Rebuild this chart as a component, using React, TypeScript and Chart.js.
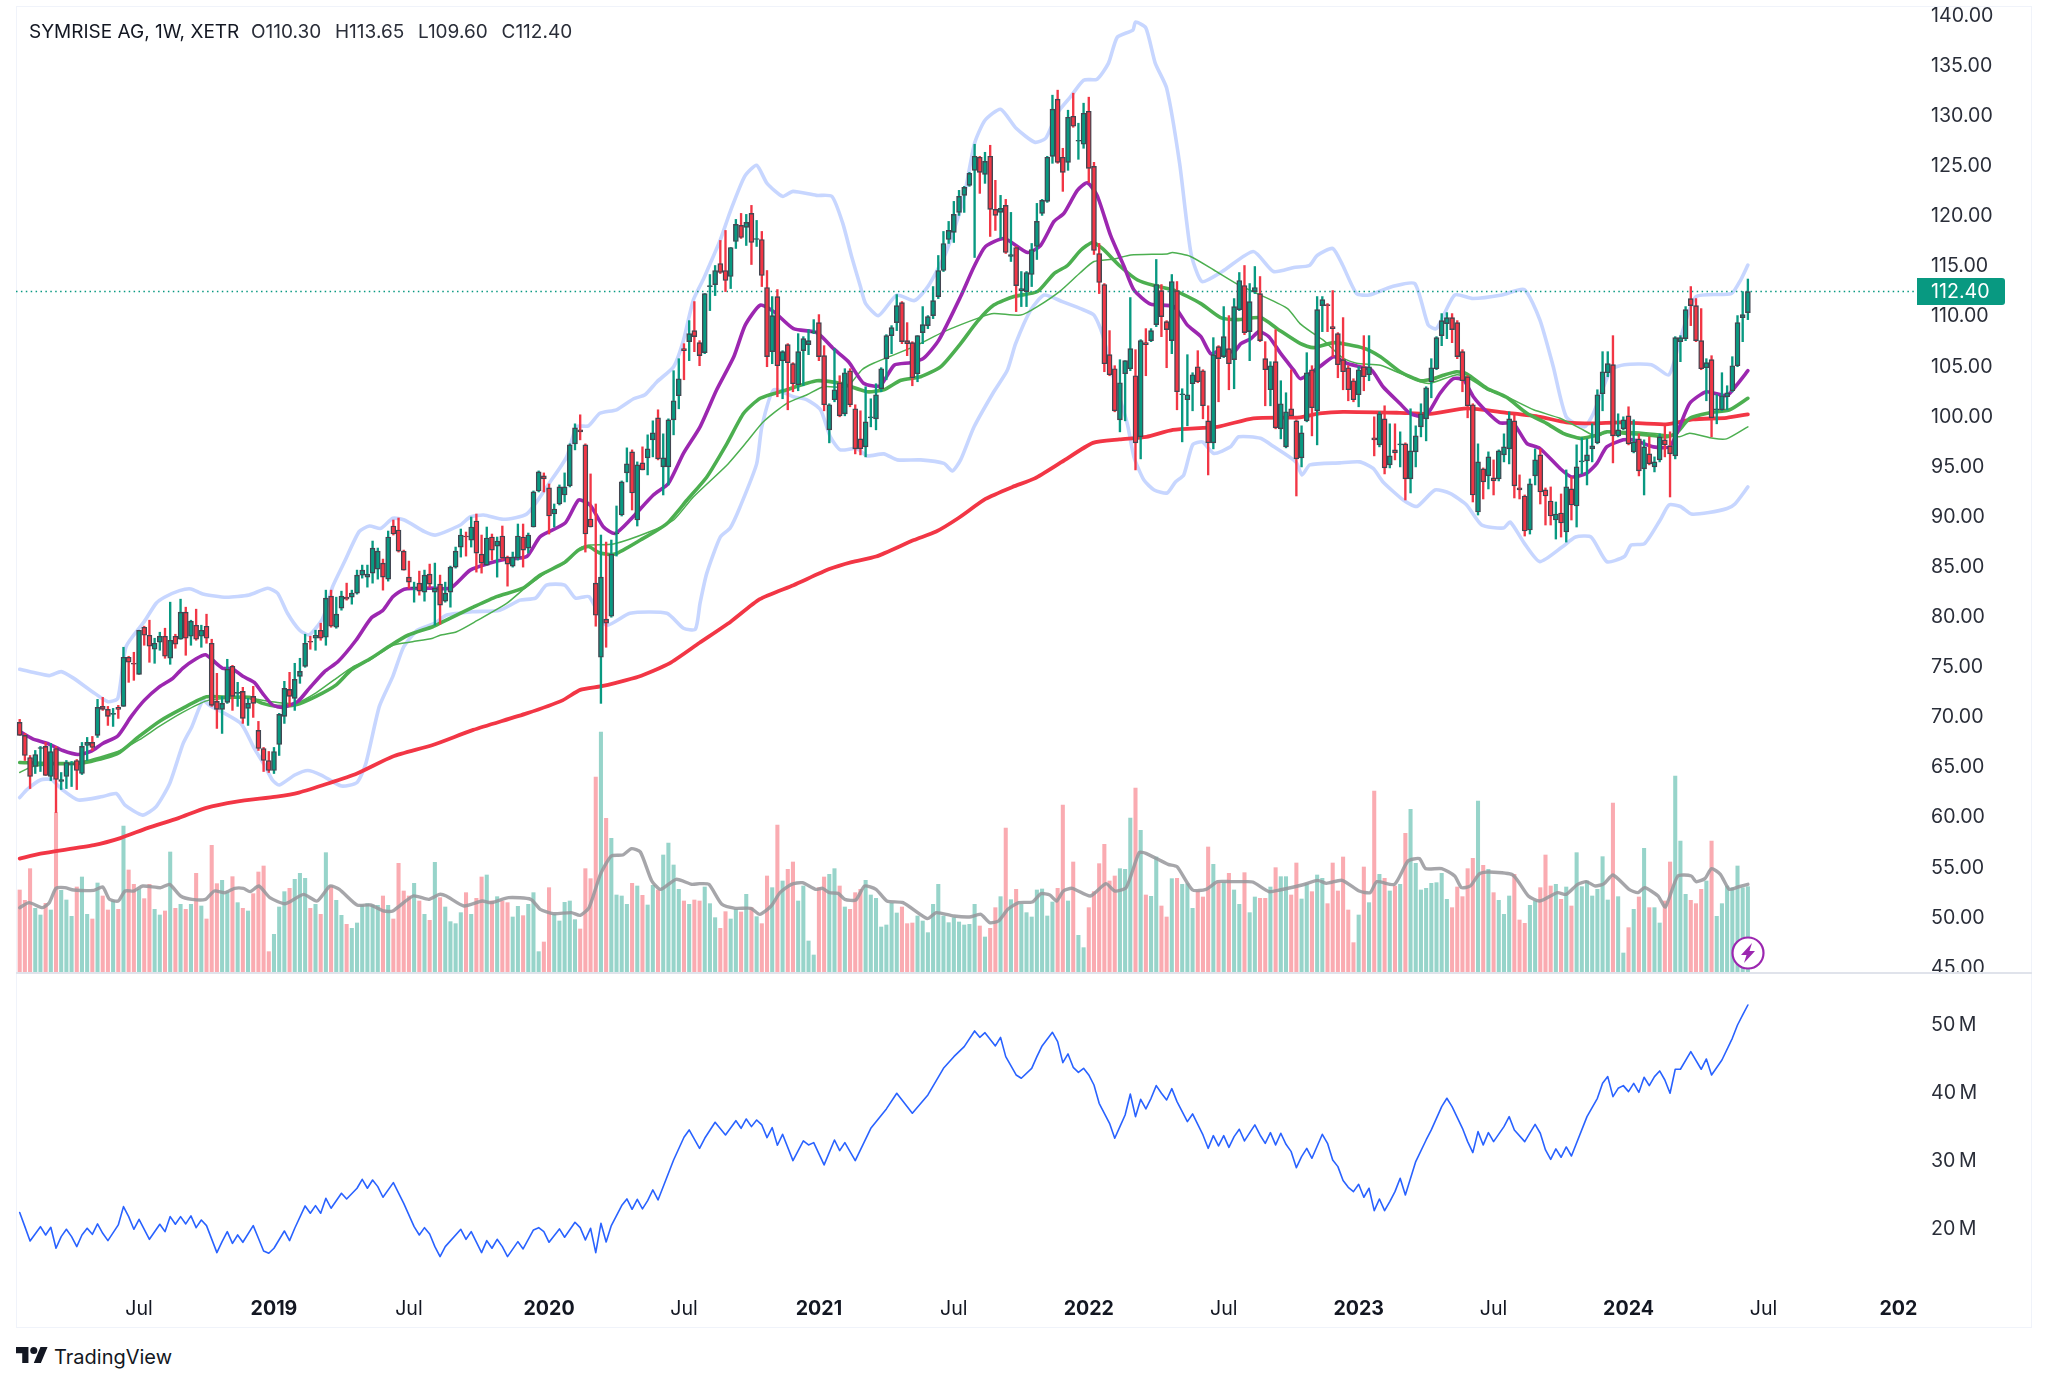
import React, { useEffect, useRef } from "react";
import { Chart, registerables } from "chart.js";
Chart.register(...registerables);

// ---- weekly candles [open, high, low, close] ----
const ohlc2018 = [
[69.4,69.7,68.1,68.1],[68.1,68.3,65.6,66.1],[65.9,66.1,62.8,64.0],[65.0,66.6,64.3,66.2],[66.8,67.0,64.5,66.9],[67.0,67.4,64.1,64.1],[64.0,67.3,63.6,66.5],[66.8,67.0,60.4,63.7],[63.5,64.4,62.7,63.7],[64.0,65.6,62.8,65.4],
[65.2,65.5,63.0,65.3],[65.6,65.7,62.7,64.6],[64.3,67.4,64.2,67.0],[67.1,67.9,65.6,67.4],[67.4,68.0,66.6,66.9],[68.1,71.7,67.9,70.9],[71.0,71.9,70.6,70.7],[70.7,71.0,69.1,70.0],[70.2,70.8,69.0,70.3],[70.9,71.1,69.8,70.7],
[71.0,76.9,71.0,75.9],[75.9,76.0,73.4,75.4],[75.3,76.4,73.6,75.2],[74.2,78.6,74.2,78.6],[78.9,79.0,77.1,78.1],[78.1,79.6,75.4,77.0],[76.7,77.8,75.3,77.3],[77.4,78.4,76.6,78.0],[78.0,78.8,75.8,76.0],[75.8,81.4,75.2,77.6],
[78.0,78.2,76.8,77.2],[77.7,81.7,77.7,80.4],[80.4,80.9,76.1,77.8],[78.0,79.6,77.1,79.5],[79.1,80.7,77.6,77.7],[78.0,79.1,76.9,78.6],[79.0,80.2,77.3,77.8],[77.3,77.7,71.0,71.1],[71.5,74.3,68.8,70.7],[70.7,72.0,68.3,71.3],
[71.4,75.7,71.3,74.7],[75.0,75.1,70.6,72.0],[72.3,73.4,71.0,72.4],[72.5,72.9,69.3,69.8],[70.8,71.8,69.1,71.3],[72.0,73.0,69.9,71.3],[68.6,69.5,66.6,66.8],[66.8,66.9,64.5,65.6],[65.6,66.5,64.4,64.6],
];
const ohlc2019 = [
[64.6,66.9,64.3,66.5],[67.2,70.3,66.1,70.2],[70.0,73.5,69.3,72.8],[72.7,74.4,71.0,72.0],[71.8,75.3,70.6,73.7],[74.0,75.8,73.3,74.5],[75.0,78.2,74.9,77.3],[77.5,78.0,76.7,77.4],[77.8,78.6,76.6,78.1],[78.6,79.3,77.6,77.8],
[77.9,82.6,77.1,81.8],[82.0,82.6,78.9,79.0],[78.9,81.9,78.8,80.2],[80.8,82.5,80.6,82.0],[81.9,83.3,81.6,81.7],[81.9,82.6,81.2,82.3],[82.3,84.6,82.2,84.1],[84.1,85.1,83.8,84.6],[83.9,85.1,82.9,84.2],[84.3,87.5,83.3,86.8],
[84.7,86.8,83.7,86.5],[85.3,85.7,82.6,83.9],[83.7,88.5,83.5,87.9],[89.0,89.6,88.1,88.2],[88.6,89.8,86.4,86.5],[86.5,86.6,84.6,84.6],[83.9,85.5,82.8,83.4],[82.8,83.4,81.4,82.9],[83.3,84.5,82.1,82.5],[82.4,84.6,81.5,84.1],
[84.2,85.2,82.9,83.2],[82.4,85.3,79.1,82.8],[83.2,84.1,79.2,81.1],[81.5,83.4,81.4,82.3],[82.4,85.0,80.9,84.9],[84.9,86.9,84.8,86.5],[86.9,88.7,85.9,88.1],[88.0,88.4,86.0,87.9],[87.6,89.9,86.9,88.9],[89.5,90.2,84.4,86.3],
[86.2,88.1,84.3,85.3],[85.1,88.9,85.1,87.8],[87.9,88.2,85.6,86.6],[87.0,87.9,83.9,87.5],[88.0,89.0,85.6,85.8],[85.9,86.0,83.0,85.2],[85.0,86.4,84.9,85.9],[85.8,89.2,85.6,88.0],[87.9,89.2,84.9,86.6],[86.8,88.3,86.3,88.1],
[88.9,92.5,88.9,92.4],[92.5,94.5,92.4,94.4],[94.0,94.3,92.4,93.7],
];
const ohlc2020 = [
[92.8,93.2,88.2,90.0],[90.2,91.2,88.9,90.7],[91.2,93.1,91.1,92.9],[92.1,94.3,91.4,92.9],[93.0,97.2,92.9,97.1],[97.2,99.2,96.6,98.8],[98.6,100.1,97.6,98.4],[97.1,97.2,86.4,88.2],[89.7,94.2,88.9,88.9],[83.3,91.2,79.0,80.1],
[75.9,88.1,71.3,83.9],[79.7,87.4,76.9,79.3],[80.0,87.6,79.9,86.2],[88.2,91.0,86.0,88.3],[90.1,93.5,90.0,93.4],[94.3,96.8,93.4,95.2],[96.4,96.6,90.6,92.3],[89.6,95.4,89.0,95.1],[95.3,96.9,94.6,94.6],[95.8,98.1,94.1,96.7],
[97.6,99.5,95.9,98.3],[99.8,100.6,95.6,95.7],[94.9,98.2,92.1,95.8],[94.9,99.7,93.1,99.6],[99.6,104.5,98.1,101.5],[102.0,105.7,100.7,103.7],[106.7,107.2,103.6,106.5],[107.4,109.5,105.5,108.2],[108.5,111.4,106.4,107.9],[107.3,107.5,105.0,106.0],
[106.3,112.2,106.2,112.2],[112.9,114.1,110.5,113.0],[113.1,115.0,112.0,114.5],[115.2,117.5,114.2,114.3],[114.5,118.5,112.4,113.5],[113.9,116.8,112.7,116.8],[117.4,119.6,116.7,119.1],[119.0,120.2,117.7,117.8],[118.8,120.1,117.0,119.3],[120.2,121.0,115.1,117.3],
[117.6,119.5,116.9,117.7],[117.6,118.4,112.9,114.0],[112.8,114.5,104.9,105.9],[106.4,111.9,105.2,110.0],[111.9,112.6,101.9,105.0],[105.5,106.5,101.7,106.4],[107.1,107.2,100.6,105.3],[105.2,105.3,102.4,103.2],[103.1,108.2,102.5,106.4],[106.5,107.9,103.0,107.7],
[107.1,108.6,106.1,107.5],[108.3,109.6,108.2,108.4],
];
const ohlc2021 = [
[109.3,110.1,105.5,105.9],[106.0,107.0,100.5,101.1],[98.6,101.2,97.3,101.1],[101.6,106.7,101.4,102.6],[103.3,104.0,99.9,100.0],[100.2,104.7,100.0,104.3],[104.5,104.7,100.9,101.1],[100.7,101.1,96.2,96.7],[97.7,100.5,96.1,96.7],[96.9,102.9,95.9,99.4],
[99.8,101.7,98.9,99.9],[99.7,103.2,98.6,102.1],[102.7,104.8,102.4,104.7],[105.7,108.1,103.6,108.0],[108.0,109.0,106.2,108.8],[109.3,112.1,108.5,111.0],[111.3,111.4,107.2,107.4],[107.5,109.3,106.0,107.2],[107.3,107.4,103.0,103.8],[104.2,108.0,103.4,108.0],
[108.3,110.9,107.2,109.1],[109.0,110.0,108.7,109.9],[110.0,112.9,109.7,111.5],[111.9,116.0,111.7,114.5],[114.5,118.4,114.4,117.2],[117.6,119.4,117.2,118.5],[118.3,121.4,117.3,120.1],[120.3,122.5,120.0,121.9],[122.0,122.9,120.3,122.8],[123.0,124.3,122.9,124.2],
[124.5,127.1,115.8,125.9],[125.8,125.9,122.2,124.3],[124.1,126.3,123.2,125.4],[125.9,127.0,117.9,120.6],[120.6,123.5,118.5,120.0],[120.3,122.0,117.7,120.7],[121.0,121.6,116.2,116.3],[115.9,120.3,115.4,116.1],[116.8,116.9,110.4,113.0],[112.5,114.4,110.9,112.7],
[112.4,114.4,110.9,114.3],[114.1,117.2,112.9,116.6],[116.9,121.2,115.6,119.4],[120.2,121.6,120.0,121.5],[121.4,125.9,121.3,125.8],[125.9,132.0,125.2,130.6],[131.6,132.5,125.2,125.3],[125.8,126.7,122.4,124.3],[125.3,130.5,124.5,129.8],[129.9,132.2,128.8,128.9],
[127.4,129.2,125.6,127.5],[127.1,131.2,126.7,130.2],
];
const ohlc2022 = [
[130.4,131.8,123.3,124.7],[124.9,125.3,116.1,116.5],[116.2,117.2,112.2,113.3],[113.1,113.2,104.4,105.2],[106.1,108.5,104.0,104.1],[104.7,105.0,100.4,100.5],[99.6,105.6,98.4,103.3],[104.2,105.5,99.5,105.5],[104.7,111.8,104.5,106.7],[104.0,106.6,94.6,97.3],
[97.9,107.6,95.7,107.5],[107.3,108.7,104.0,107.1],[107.5,108.7,107.4,108.5],[109.1,115.6,108.9,113.1],[112.5,113.1,107.9,109.9],[109.4,109.5,104.8,108.6],[107.5,114.1,106.2,113.4],[112.5,113.4,100.6,102.4],[102.1,102.7,97.4,102.2],[101.6,106.1,99.0,102.1],
[103.2,104.3,100.5,104.1],[104.9,106.5,103.3,103.4],[104.5,104.6,99.7,101.0],[99.5,101.0,94.1,97.3],[97.3,107.8,96.7,106.1],[106.9,107.0,101.4,105.7],[105.9,110.9,105.8,107.9],[106.7,110.0,102.6,105.2],[105.6,111.7,102.7,110.9],[110.6,114.3,110.5,113.5],
[113.0,115.0,108.1,108.3],[108.4,113.2,105.5,111.4],[112.4,114.9,112.2,112.8],[112.2,113.9,107.4,107.5],[105.7,107.4,101.0,104.6],[102.6,105.4,101.0,105.0],[105.4,108.6,98.7,98.8],[98.7,103.5,97.7,101.2],[96.9,102.3,96.8,100.4],[100.7,104.6,99.9,100.0],
[99.5,99.6,92.0,95.7],[95.8,99.0,94.9,98.3],[99.5,106.3,99.4,104.3],[104.6,105.0,98.0,100.8],[100.5,111.9,97.1,110.6],[111.0,111.9,108.4,111.6],[111.1,111.2,108.4,111.0],[108.9,112.5,105.9,108.7],[108.2,108.3,103.8,105.1],[105.6,109.8,102.6,104.4],
[104.8,105.0,101.5,102.6],[103.5,103.7,101.4,101.6],
];
const ohlc2023 = [
[102.1,104.9,100.9,104.6],[104.9,108.0,102.5,103.9],[104.1,108.0,103.5,104.9],[97.8,99.9,96.0,97.6],[97.1,100.4,96.9,100.2],[99.7,101.0,94.2,94.8],[95.1,99.2,94.8,96.0],[96.6,99.2,95.6,96.3],[97.1,98.4,94.9,97.2],[97.2,97.3,91.6,93.7],
[93.7,100.7,92.3,96.5],[96.4,99.0,94.9,98.0],[98.9,101.2,97.9,100.2],[99.7,102.9,97.5,102.8],[103.4,105.7,101.8,104.8],[104.7,107.9,104.6,107.8],[108.0,110.2,107.0,109.5],[109.2,110.3,107.7,109.8],[109.8,110.2,107.3,108.6],[109.3,109.5,105.7,105.9],
[106.4,106.6,102.4,103.5],[103.9,104.0,99.8,101.0],[101.1,101.2,91.4,92.1],[90.4,97.2,90.1,95.4],[94.7,94.8,91.7,93.4],[94.0,96.4,92.7,95.9],[93.8,95.6,92.1,93.5],[93.7,96.6,93.5,96.5],[96.1,98.2,95.4,96.9],[96.7,100.4,95.2,99.7],
[99.5,100.1,91.8,93.0],[92.8,94.1,91.7,92.6],[92.0,92.1,88.0,88.5],[88.6,93.7,88.2,93.2],[94.0,96.7,93.1,95.6],[96.1,96.7,91.2,92.4],[92.6,92.8,89.1,92.0],[91.5,92.9,89.1,90.0],[89.6,91.4,87.7,90.2],[90.3,92.2,87.9,89.3],
[88.4,94.6,87.4,92.9],[92.7,93.9,89.6,91.1],[91.0,97.1,88.9,94.9],[95.4,97.8,94.2,95.5],[95.5,97.7,93.1,96.1],[96.7,99.2,95.4,97.0],[97.3,102.6,97.2,102.1],[102.2,106.4,100.5,104.4],[104.3,106.4,103.9,105.2],[105.1,108.0,95.3,98.0],
[98.0,100.2,97.9,98.6],[98.7,99.9,98.6,99.6],
];
const ohlc2024 = [
[100.0,100.9,97.1,97.2],[96.4,99.6,96.3,97.4],[97.7,98.2,94.0,94.5],[94.7,97.6,92.1,96.9],[96.2,97.9,95.1,95.2],[94.9,95.9,94.4,95.4],[95.6,98.2,95.4,97.9],[97.6,99.0,95.9,97.1],[97.0,98.4,91.9,96.2],[96.0,107.9,95.7,107.8],
[107.4,108.0,105.4,107.8],[107.7,110.9,107.5,110.6],[111.7,112.9,109.0,111.0],[111.0,111.7,107.4,107.5],[107.5,110.7,104.6,104.7],[104.8,105.7,101.5,105.3],[105.6,106.0,97.9,99.8],[100.6,102.1,99.2,100.7],[100.6,104.3,100.5,102.0],[101.9,103.0,100.6,102.3],
[102.5,105.9,102.4,105.0],[105.0,110.0,104.9,109.3],[109.8,112.4,107.4,110.1],[110.3,113.65,109.6,112.4],
];

// ---- volume bars (relative units) ----
const vol2018 = [249,218,313,194,174,209,189,481,248,219,170,258,288,176,162,270,231,189,216,191,441,309,266,251,223,266,191,174,186,363,194,206,191,206,299,201,162,383,268,278,244,289,211,194,186,238,303,321,64];
const vol2019 = [116,198,244,254,281,299,284,194,206,176,361,261,218,173,146,134,150,204,208,204,203,231,203,162,329,246,231,269,216,176,158,332,226,198,154,148,181,241,176,224,288,294,216,229,216,211,168,200,172,206,241,64,93];
const vol2020 = [256,176,156,212,216,160,132,313,283,588,723,464,404,234,231,206,269,261,233,204,263,249,354,390,324,251,216,206,219,216,258,208,166,134,184,162,191,183,236,196,169,148,291,256,444,276,311,333,216,261,96,54];
const vol2021 = [256,288,296,313,261,198,191,241,251,278,234,224,138,144,209,180,198,148,150,171,156,121,206,266,171,151,166,153,144,146,206,141,108,134,196,229,435,220,251,206,181,168,249,252,171,213,254,504,216,333,113,76];
const vol2022 = [196,244,328,386,276,291,313,311,465,555,428,234,230,348,201,168,283,284,266,268,194,246,228,378,326,271,271,299,249,206,301,181,228,224,224,258,316,289,289,234,330,222,268,244,294,284,208,330,246,348,189,91];
const vol2023 = [174,318,211,546,296,284,246,261,266,419,491,329,249,254,269,271,299,221,196,258,229,313,344,516,323,311,241,218,176,231,296,159,149,203,216,256,354,261,266,221,258,201,361,259,276,231,251,349,219,510,229,60];
const vol2024 = [136,191,228,374,196,196,150,216,333,591,396,236,218,208,251,276,396,170,208,261,256,321,256,259];

// ---- indicator lines: [week index, value] ----
const bbUpper = [[0,74.7],[2.5,74.4],[5.7,74.07],[8,74.47],[10.2,73.87],[14,72.47],[17,71.47],[18.9,71.8],[20.5,76.96],[24,79.46],[26.3,81.29],[27.9,81.89],[30.8,82.55],[33,82.72],[35.3,82.22],[39.8,81.89],[44.2,82.12],[47.8,82.79],[49.7,82.29],[51.6,80.29],[53.9,78.63],[55.8,78.13],[58.4,79.79],[60.3,82.95],[62.6,85.45],[65.4,88.44],[67.4,89],[69.6,88.77],[71.9,89.77],[74.1,89.6],[78,88.44],[80.2,88.1],[84.9,89.1],[86.8,89.9],[89.4,90.1],[93.2,89.67],[97.7,90.2],[102.2,93.4],[105.4,95.9],[107.3,98.9],[109.6,99],[111.8,100.25],[115,100.6],[118.3,101.7],[120.5,102.1],[122.8,103.4],[126,104.9],[127.9,107.55],[129.8,111.55],[131.8,113.7],[132.8,114.9],[135,117.55],[137,120.5],[139.7,123.9],[142,125],[144,123.2],[147,121.9],[149,122.4],[153.5,122],[156.5,121.9],[158.6,119.2],[160.3,115.9],[162,112.9],[163,111.2],[165.5,110],[169,112.05],[172.4,111.5],[175,112.9],[178.4,116.2],[181.8,121.5],[184,127.2],[186,129.5],[189,130.6],[192,128.7],[195.6,127.3],[197.7,127.7],[199.9,130.2],[202.5,131.85],[205,133.5],[207.6,133.6],[209.8,135.2],[211.5,137.8],[214.5,138.5],[215,139.3],[217,138.7],[218.8,135.2],[221,132.7],[223.5,125.2],[225.7,116.2],[227.8,113.4],[231.7,114.4],[237.7,116.4],[241.6,114.4],[245.5,114.8],[248.5,115],[250,116],[253,116.7],[254.9,115.05],[257.6,112.2],[260,112.05],[264.5,112.9],[268.8,113.2],[271.4,109.06],[273,108.7],[276.5,112.05],[280,111.7],[285.6,112.05],[289.9,112.6],[292.9,109.6],[295.5,104.9],[298,99.9],[301.5,98.9],[303.2,100.2],[306.6,104.6],[309.2,105.1],[314.4,105.1],[317.8,104.1],[320,107.7],[323,111.9],[329.8,112.2],[331.6,113.55],[333,115.05]];
const bbLower = [[0,61.9],[1.4,62.7],[4,63.65],[6.1,63.7],[8.3,62.65],[11.3,61.65],[16,62],[18.6,62.3],[20.3,61.15],[23.7,60.15],[26.3,61],[28.9,63.3],[31.5,67.3],[33.2,69],[35.3,71.6],[36.6,71.1],[42.6,69.3],[45.2,66.8],[47,65.3],[48.7,63.65],[50,63.15],[53,64.15],[55.5,64.6],[58.1,64.15],[62,63.05],[65,63.4],[66.7,65.3],[69.3,71],[71.9,74],[74,76.95],[76.6,78.6],[80,79.3],[82.2,80.1],[87.4,80.45],[92.5,80.6],[96.4,81.6],[99.4,81.8],[101.5,83.1],[105,83.1],[107.1,81.8],[109.7,81.95],[113,79.1],[117.6,80.3],[124.7,80.3],[127.9,78.8],[130.2,78.7],[131.1,81.3],[132.4,84.3],[135,87.9],[136.9,88.8],[138.8,90.9],[142,95.2],[143,98.9],[145.3,102.6],[149.1,101.9],[151.7,101.6],[154.3,100.6],[156.2,97.9],[158.1,96.6],[161.3,96.75],[163.3,96],[166.5,96.2],[169.1,95.6],[173.6,95.6],[178.1,95.25],[179.7,94.5],[181.3,95.6],[183.9,98.9],[187.7,102.4],[190.3,104.55],[191.9,107.2],[194.8,110.55],[197.4,112.05],[200.9,111.4],[204.4,110.7],[207,110.05],[208.6,108.2],[210.9,103.55],[213.4,99.25],[214.7,95.9],[216.6,93.6],[218.6,92.6],[221.1,92.3],[222.7,93.4],[224.3,94.1],[226,97.1],[227.9,97.4],[230.1,96.25],[233.3,96.9],[234.9,97.9],[239.1,97.75],[241.7,96.9],[245.9,95.4],[247.1,94.1],[248.6,95.1],[254.4,95.3],[258.2,95.4],[260.8,94.75],[262.7,93.4],[266.6,91.6],[269.2,90.95],[272.7,92.6],[275.6,92.25],[278.8,91.1],[281.7,89.1],[285.9,88.8],[287.2,89.4],[289.9,87.3],[292.9,85.45],[297.2,86.9],[299.8,87.9],[302.8,87.9],[305.8,85.45],[309.2,85.95],[310.5,87.1],[313.1,87.25],[316.1,89.6],[317.8,91.1],[320,90.95],[322.1,90.2],[325.5,90.35],[329,90.75],[330.5,91.2],[333,92.9]];
const ema20 = [[0,68.5],[2.5,67.75],[5.4,67.3],[8.3,66.6],[11.2,66.2],[13.7,66.5],[16,67.3],[18.9,68.05],[21.5,70],[24,71.6],[26.9,72.95],[29.5,73.8],[31.4,74.8],[34,75.75],[35.8,76.15],[37.2,75.6],[39.1,74.8],[41,74.75],[43,74],[45.2,73.4],[46.8,72.3],[48.7,71.15],[50.7,70.9],[53.6,71.5],[55.8,72.8],[58.7,74.45],[61.3,75.45],[64.8,77.6],[67.7,79.8],[70,80.6],[71.9,81.95],[74.1,82.7],[79,82.8],[83,82.8],[86.8,84.6],[90.6,85.3],[93.9,85.7],[97.7,85.95],[100.3,87.95],[105.1,89.3],[107.7,91.6],[109.9,91.1],[112.5,88.9],[114.7,88.25],[117.6,89.6],[122.1,92.1],[125,93.25],[127.9,96.25],[131.1,98.9],[134.3,102.6],[137.6,105.9],[139.8,109.05],[142.7,111.05],[145.3,110.4],[149.1,108.7],[153.6,108.3],[156.8,106.7],[159.7,105.4],[162.6,103.25],[165.8,103],[168.5,105.05],[171.7,105.3],[174.2,105.75],[177.1,107.55],[181.3,111.9],[183.9,114.9],[186.1,116.9],[189.7,117.7],[194.2,116.3],[196.7,117],[199.3,119.4],[201.2,120.2],[203.8,122.5],[205.7,123.25],[207.6,122],[210.2,118],[212.8,114.9],[214.7,112.55],[217.9,111.15],[222.4,110.9],[225,109.05],[227.6,107.9],[229.5,106.2],[231.4,106.55],[234,106.4],[235.3,107.2],[237.2,107.7],[238.8,108.4],[240.7,107.9],[243,106.2],[245.5,104.55],[246.8,103.7],[250.5,104.9],[253.2,105.9],[255.7,105.25],[258.2,104.9],[260.5,104.55],[262.7,102.9],[265.9,101.25],[267.9,100.25],[270.8,99.9],[273.7,102.25],[276.2,103.7],[278.2,103.6],[280.1,101.9],[282.7,100.4],[285.2,99.3],[287.8,99.25],[290.4,97.25],[292.9,96.75],[296.8,94.75],[299,93.9],[301.9,94.25],[303.9,95.25],[305.8,96.9],[309,97.6],[310.9,97.6],[314.8,96.9],[317.9,96.9],[319.6,98.6],[321.8,101.25],[325,102.4],[328.9,102],[330.8,103.05],[333,104.5]];
const ema50 = [[0,65.4],[5.7,65.3],[11,65.3],[13.7,65.5],[18.9,66.3],[23,68],[26.9,69.5],[31.4,70.8],[36,71.95],[40.4,71.9],[44.2,71.9],[46.8,71.3],[49.7,71],[53.2,71.15],[57.1,72],[61,73.15],[63.9,74.65],[67.7,75.8],[71.2,77],[74.8,78.1],[79.6,78.95],[81,79.3],[84.2,80.1],[87.4,80.9],[91.9,81.95],[97,82.8],[100.3,84.1],[104.8,85.3],[107.7,86.6],[109.6,86.95],[111.8,86.3],[114.7,86.2],[119.6,87.6],[124.7,89.25],[128.6,91.6],[132.4,93.9],[136.3,97.25],[139.5,100.25],[142.7,101.75],[147.2,102.5],[153.6,103.5],[158.1,103.25],[163.3,102.4],[166.5,102.6],[169.8,103.55],[173.6,103.9],[177.5,104.9],[181.3,107.2],[184.5,109.4],[187.7,111.05],[191.6,111.9],[196.1,112.4],[199.3,114.2],[201.9,115],[204.4,116.5],[206.7,117.3],[208.6,116.7],[212.1,114.9],[215.4,113.55],[218.6,113],[222.4,112.55],[227.6,111.2],[231.4,109.8],[234.6,109.6],[239.1,109.8],[242.3,108.7],[246.8,107.2],[249.3,106.8],[253.2,107.3],[259,106.75],[262.2,105.9],[266,104.4],[269.9,103.5],[272.4,103.7],[274.3,104.05],[276.9,104.4],[278.8,104.2],[282.7,102.75],[286.5,101.85],[290.4,100.25],[294.2,99.25],[297.4,98.25],[300.7,97.75],[303.9,98.05],[305.8,98.4],[309.6,98.25],[313.5,98.1],[317.2,97.9],[319.2,98.25],[321.8,99.75],[325.7,100.3],[329.5,100.6],[333,101.75]];
const sma50 = [[0,64.4],[2.5,65],[12.1,65.5],[18.9,66.5],[23,67.65],[26.9,69],[31.4,70.4],[36,71.55],[40.4,71.8],[44.2,71.8],[49.4,71.4],[53.2,71.3],[57.1,72.35],[61,73.8],[64.2,74.95],[67.4,75.6],[71.9,77.1],[75.7,77.45],[79.6,77.8],[81,78.1],[84.2,78.45],[88.1,79.55],[93.9,81.3],[97.7,82.95],[102.2,84.6],[105.4,85.4],[108,86.8],[109.9,87.1],[114.4,87.2],[121.5,88.45],[126,89.6],[129.8,91.9],[136.3,95.1],[140.1,97.4],[143.3,99.4],[147.8,101.25],[151.7,102.1],[154.9,102.9],[159.4,102.9],[162.3,104.6],[164.5,105.25],[172.3,106.9],[178.1,108.4],[185.2,109.85],[187.7,110.2],[192.9,110.05],[196.1,110.9],[200.6,112.5],[204.4,114.3],[207,115.4],[210.9,115.65],[214.1,116.05],[221.1,116.15],[222.1,116.3],[225.6,115.9],[230.1,114.55],[234.6,113.15],[239.1,112.05],[244.3,110.7],[246.7,109.2],[249.3,108.2],[251.2,107.55],[255,105.75],[257.6,105.25],[262.2,105.05],[265.3,104.4],[269.9,103.4],[271.8,103.25],[276.9,104.1],[278.8,103.9],[282.7,102.6],[286.5,101.9],[291.7,100.6],[296.8,99.75],[300.7,98.75],[303.9,97.9],[305.8,98.4],[310.9,98.4],[317.2,98.1],[319.8,97.9],[321.8,98.25],[326.3,97.75],[328.9,97.7],[333,98.9]];
const sma200 = [[0,55.8],[4,56.3],[14.3,57.15],[19.4,57.85],[24.6,58.85],[30.6,59.85],[35.8,60.85],[41.8,61.5],[49.5,62],[53.8,62.4],[59.4,63.3],[65,64.3],[71.9,66],[79.6,67.15],[87.4,68.65],[97.7,70.3],[104.6,71.6],[108,72.65],[111.9,73],[114.9,73.35],[119.2,73.95],[125.2,75.3],[131,77.35],[137,79.45],[142.6,81.7],[149.1,83.1],[156,84.7],[160.3,85.4],[165,85.95],[172.3,87.6],[176.6,88.45],[180.9,89.8],[186.1,91.7],[191.3,92.9],[195.6,93.75],[200.8,95.4],[206.8,97.3],[211.9,97.65],[217.1,97.9],[222.2,98.6],[230.8,98.9],[237.7,99.75],[246.7,99.85],[250.5,100.25],[255,100.4],[265.9,100.3],[271.8,100.2],[278.8,100.75],[286.5,100.3],[292.9,99.9],[298,99.35],[303.2,99.25],[308.4,99.35],[317.2,99.15],[322.4,99.65],[328.9,99.8],[333,100.15]];
const volMa = [[0,196],[1.8,211],[4.4,196],[5.7,211],[7,254],[8.7,256],[10.4,249],[14.3,248],[16,258],[17.3,221],[19,216],[20.3,246],[22,246],[23.7,261],[27.2,256],[28.9,266],[31,231],[33.2,221],[35.8,221],[37.5,246],[39.6,241],[41.4,254],[43.1,254],[44.4,244],[46.1,261],[48.2,226],[51.2,208],[54.7,236],[57.3,216],[59.8,261],[61.6,251],[65,204],[67.6,204],[70.2,186],[71.9,186],[75.8,231],[78.8,221],[80.9,236],[82.2,231],[85.6,201],[89.1,216],[90.8,211],[94.2,226],[98.5,221],[100.3,191],[102.8,178],[106.3,181],[108,173],[109.7,196],[111.9,296],[114,351],[116.2,354],[117.9,373],[119.6,363],[121.8,276],[123.5,251],[126.5,281],[129.5,266],[131,268],[132.8,266],[135.3,206],[137.9,194],[140.9,194],[142.6,176],[144.8,201],[146.5,241],[148.7,266],[150.8,271],[153.4,251],[154.7,254],[156,241],[157.7,239],[159,221],[161.1,219],[162.8,261],[165,251],[167.1,216],[170.2,211],[174.9,163],[176.6,181],[180,171],[183,168],[185.2,176],[186.9,151],[188.6,156],[190.4,191],[192.5,211],[195.1,213],[196.8,238],[198.5,234],[199.8,216],[201.1,246],[202.8,254],[206.3,231],[209.3,268],[211,246],[213.2,256],[215.7,361],[217,359],[221.3,326],[223,319],[226,249],[228.6,251],[230.8,274],[233.4,274],[235.9,274],[237.6,273],[240.7,244],[242.8,249],[247.1,264],[250.1,278],[251.8,269],[254.8,278],[258.1,246],[260.2,241],[261.5,274],[264.9,266],[267.5,336],[269.7,343],[270.9,313],[274,313],[276.5,291],[277.8,256],[279.5,261],[281.3,298],[283,303],[287.7,294],[290.7,231],[292.9,216],[296.3,241],[298,236],[300.2,266],[301.9,274],[303.6,261],[305.3,268],[307,294],[310.1,251],[311.8,241],[313.1,256],[315.7,231],[317.1,198],[319.5,291],[322.1,291],[323,274],[324.7,283],[326,313],[327.7,296],[329.4,251],[331.1,258],[333,266]];
const obv = [[0,22.08],[1,20.01],[2,17.9],[4,20],[5,18.78],[6,19.91],[7,16.82],[8,18.54],[9,19.62],[10,18.54],[11,17.06],[12,18.78],[13,19.77],[14,18.88],[15,20.41],[16,19.03],[17,17.95],[19,20.26],[20,22.96],[21,21.49],[22,19.62],[23,21.09],[25,18.14],[27,20.36],[28,19.27],[29,21.49],[30,20.36],[31,21.49],[32,20.41],[33,21.59],[34,19.86],[35,20.99],[36,20.16],[38,16.18],[39,17.8],[40,19.27],[41,17.55],[42,18.78],[43,17.7],[45,20.16],[46,18.29],[47,16.42],[48,16.08],[49,16.82],[51,19.37],[52,17.95],[53,19.77],[55,23.06],[56,21.98],[57,23.11],[58,21.98],[59,24.19],[60,22.72],[62,24.93],[63,24.09],[65,25.67],[66,26.99],[67,25.67],[68,26.89],[69,25.91],[70,24.34],[72,26.5],[74,23.45],[76,20],[77,18.78],[78,19.86],[79,18.93],[80,17.06],[81,15.59],[82,17.06],[85,19.62],[86,18.14],[87,19.27],[89,16.18],[90,17.95],[91,16.82],[92,18.14],[93,17.06],[94,15.59],[96,17.8],[97,16.72],[99,19.52],[100,19.86],[101,19.27],[102,17.7],[104,19.67],[105,18.44],[107,20.65],[108,19.86],[109,18.05],[110,19.77],[111,16.18],[112,20.5],[113,17.75],[114,20.16],[116,23.11],[117,24.09],[118,22.57],[119,24.04],[120,22.62],[121,23.85],[122,25.42],[123,23.94],[126,29.84],[128,33.19],[129,34.27],[131,31.56],[132,33.04],[134,35.4],[136,33.53],[138,35.64],[139,34.51],[140,35.89],[141,34.76],[142,35.74],[143,35.01],[144,33.14],[145,34.61],[146,32.01],[147,33.63],[149,29.75],[151,32.65],[152,32.06],[153,32.4],[155,29.11],[157,32.79],[158,31.22],[159,32.4],[161,29.75],[164,34.51],[167,37.37],[169,39.68],[172,36.73],[175,39.43],[178,43.36],[180,45.08],[182,46.56],[184,48.87],[185,47.93],[186,48.62],[188,46.66],[189,47.93],[190,45.08],[192,42.38],[193,41.89],[195,43.36],[196,45.08],[197,46.66],[199,48.67],[200,47.3],[201,44.2],[202,45.48],[203,43.51],[204,42.77],[205,43.36],[206,42.38],[207,40.9],[208,38.2],[210,35.25],[211,33.04],[212,34.76],[213,36.48],[214,39.58],[215,36.23],[216,38.79],[217,37.37],[218,38.94],[219,40.81],[220,39.68],[221,38.69],[222,40.36],[223,38.45],[224,36.97],[225,35.5],[226,36.63],[227,35.1],[228,33.53],[229,31.56],[230,33.43],[231,31.91],[232,33.43],[233,31.71],[234,33.29],[235,34.37],[236,32.65],[238,35.01],[239,33.53],[240,32.3],[241,33.87],[242,32.06],[243,33.78],[244,32.15],[245,31.07],[246,28.71],[247,30.34],[248,31.56],[249,30.09],[251,33.63],[252,32.3],[253,29.84],[254,28.86],[255,26.8],[256,25.81],[257,25.17],[258,26.25],[259,24.34],[260,25.67],[261,22.37],[262,24.09],[263,22.37],[264,23.7],[265,25.17],[266,27.14],[267,24.68],[269,29.6],[271,32.79],[272,34.27],[274,37.71],[275,38.94],[276,37.71],[278,34.51],[279,32.55],[280,30.93],[281,34.02],[282,32.06],[283,33.87],[284,32.55],[286,34.76],[287,36.23],[288,34.27],[290,32.55],[292,35.1],[293,33.78],[294,31.32],[295,29.94],[296,31.47],[297,30.24],[298,31.76],[299,30.43],[302,36.23],[304,38.94],[305,41.15],[306,42.14],[307,39.18],[308,40.41],[309,40.81],[310,39.92],[311,41.15],[312,39.82],[313,42.04],[314,40.81],[315,42.14],[316,42.97],[317,41.64],[318,39.68],[319,43.22],[320,43.22],[322,45.82],[324,43.22],[325,44.74],[326,42.38],[328,44.59],[330,47.79],[331,49.75],[332,51.23],[333,52.7]];

// ---- axes and labels ----
const priceTicks = [45,50,55,60,65,70,75,80,85,90,95,100,105,110,115,120,125,130,135,140];
const obvTicks = [20,30,40,50];
const timeTickWeeks = [23,49,75,102,128,154,180,206,232,258,284,310,336,362];
const timeTickLabels = ["Jul","2019","Jul","2020","Jul","2021","Jul","2022","Jul","2023","Jul","2024","Jul","202"];
const lastPrice = 112.4;
const headerTitle = "SYMRISE AG, 1W, XETR";
const headerValues = ["O110.30","H113.65","L109.60","C112.40"];
const headerValueLeft = [251,335,418,501.5];

const FONT = "Inter, 'Noto Sans', sans-serif";
const AXIS_FONT_SIZE = 19.6;
const UP = "#089981", DOWN = "#f23645";
const WEEK_MIN = -0.71, WEEK_MAX = 365.2;
const PRICE_MIN = 44.39, PRICE_MAX = 140.9;

const candles = [...ohlc2018,...ohlc2019,...ohlc2020,...ohlc2021,...ohlc2022,...ohlc2023,...ohlc2024];
const volumes = [...vol2018,...vol2019,...vol2020,...vol2021,...vol2022,...vol2023,...vol2024];
const isUp = (c: number[]) => c[3] >= c[0];
const pts = (a: number[][]) => a.map(([x, y]) => ({ x, y }));

const line = (label: string, data: number[][], color: string, width: number, order: number, yAxisID = "y", tension = 0.2) => ({
  type: "line", label, data: pts(data), borderColor: color, borderWidth: width, pointRadius: 0,
  fill: false, tension, order, yAxisID, borderCapStyle: "round", borderJoinStyle: "round",
});

// Keeps the plot area at exactly the layout padding: no extra room for the edge tick labels.
const fitVertical = (s: any) => { s.width = 117; s.paddingTop = 0; s.paddingBottom = 0; };

const lastPricePlugin = {
  id: "lastPrice",
  afterDraw(chart: any) {
    const { ctx, scales } = chart;
    const y = scales.y.getPixelForValue(lastPrice);
    ctx.save();
    ctx.fillStyle = UP;
    ctx.beginPath();
    ctx.roundRect(1917, y - 13.5, 88, 27, [0, 3, 3, 0]);
    ctx.fill();
    ctx.fillStyle = "#ffffff";
    ctx.font = `${AXIS_FONT_SIZE}px ${FONT}`;
    ctx.textBaseline = "middle";
    ctx.textAlign = "left";
    ctx.fillText(lastPrice.toFixed(2), 1931, y + 1);
    ctx.restore();
  },
};

function mainConfig(): any {
  return {
    type: "bar",
    data: {
      datasets: [
        { type: "bar", label: "Volume", yAxisID: "yVol", grouped: false, order: 20, barThickness: 3.4,
          data: volumes.map((v, i) => ({ x: i, y: v })),
          backgroundColor: candles.map(c => (isUp(c) ? "rgba(8,153,129,0.42)" : "rgba(242,54,69,0.42)")) },
        line("Volume MA", volMa, "rgba(150,150,155,0.85)", 3.4, 15, "yVol"),
        line("BB upper", bbUpper, "#c7d6ff", 3.6, 12),
        line("BB lower", bbLower, "#c7d6ff", 3.6, 12),
        line("SMA 200", sma200, "#f23645", 3.8, 8),
        line("SMA 50", sma50, "#4caf50", 1.5, 7),
        line("EMA 50", ema50, "#4caf50", 3.6, 6),
        line("EMA 20", ema20, "#9c27b0", 3.6, 5),
        { type: "line", label: "Last", order: 4, pointRadius: 0, borderColor: UP, borderWidth: 1.5, borderDash: [1.5, 3.4], yAxisID: "y",
          data: [{ x: WEEK_MIN, y: lastPrice }, { x: WEEK_MAX, y: lastPrice }] },
        { type: "bar", label: "Wick", yAxisID: "y", grouped: false, order: 2, barThickness: 1.7,
          data: candles.map((c, i) => ({ x: i, y: [c[2], c[1]] })),
          backgroundColor: candles.map(c => (isUp(c) ? UP : DOWN)) },
        { type: "bar", label: "Body", yAxisID: "y", grouped: false, order: 1, barThickness: 5,
          data: candles.map((c, i) => ({ x: i, y: [c[0], c[3]] })),
          backgroundColor: candles.map(c => (isUp(c) ? UP : DOWN)),
          borderColor: "#434651", borderWidth: 1.4, borderSkipped: false },
      ],
    },
    plugins: [lastPricePlugin],
    options: {
      animation: false, responsive: false, devicePixelRatio: 1,
      layout: { padding: { left: 16, right: 16, top: 6, bottom: 7 } },
      plugins: { legend: { display: false }, tooltip: { enabled: false }, title: { display: false } },
      scales: {
        x: { type: "linear", min: WEEK_MIN, max: WEEK_MAX, offset: false, display: false },
        yVol: { type: "linear", display: false, min: 0, max: 2901, position: "left" },
        y: {
          type: "linear", position: "right", min: PRICE_MIN, max: PRICE_MAX,
          afterFit: fitVertical,
          afterBuildTicks: (s: any) => { s.ticks = priceTicks.map(value => ({ value })); },
          grid: { display: false, drawTicks: false },
          border: { display: false },
          ticks: { padding: 16, labelOffset: 1, color: "#2a2e39", font: { family: FONT, size: AXIS_FONT_SIZE }, callback: (v: any) => Number(v).toFixed(2) },
        },
      },
    },
  };
}

function obvConfig(): any {
  return {
    type: "line",
    data: { datasets: [line("OBV", obv, "#2962ff", 1.6, 1, "y", 0)] },
    options: {
      animation: false, responsive: false, devicePixelRatio: 1,
      layout: { padding: { left: 16, right: 16, top: 0, bottom: 0 } },
      plugins: { legend: { display: false }, tooltip: { enabled: false } },
      scales: {
        x: {
          type: "linear", min: WEEK_MIN, max: WEEK_MAX, offset: false, position: "bottom",
          afterFit: (s: any) => { s.height = 45; },
          afterBuildTicks: (s: any) => { s.ticks = timeTickWeeks.map(value => ({ value })); },
          grid: { display: false, drawTicks: false },
          border: { display: false },
          ticks: {
            autoSkip: false, maxRotation: 0, padding: 12, color: "#131722",
            font: (ctx: any) => ({ family: FONT, size: AXIS_FONT_SIZE, weight: /^\d/.test(timeTickLabels[ctx.index] ?? "") ? "bold" : "normal" }),
            callback: (_: any, i: number) => timeTickLabels[i],
          },
        },
        y: {
          type: "linear", position: "right", min: 11.4, max: 57.42,
          afterFit: fitVertical,
          afterBuildTicks: (s: any) => { s.ticks = obvTicks.map(value => ({ value })); },
          grid: { display: false, drawTicks: false },
          border: { display: false },
          ticks: { padding: 16, labelOffset: 2, color: "#2a2e39", font: { family: FONT, size: AXIS_FONT_SIZE }, callback: (v: any) => `${v}\u202fM` },
        },
      },
    },
  };
}

export default function App() {
  const mainRef = useRef<HTMLCanvasElement>(null);
  const obvRef = useRef<HTMLCanvasElement>(null);
  useEffect(() => {
    const a = new Chart(mainRef.current as any, mainConfig());
    const b = new Chart(obvRef.current as any, obvConfig());
    return () => { a.destroy(); b.destroy(); };
  }, []);
  const abs = (s: React.CSSProperties): React.CSSProperties => ({ position: "absolute", ...s });
  return (
    <div style={abs({ left: 0, top: 0, width: 2048, height: 1384, background: "#fff", overflow: "hidden", fontFamily: FONT })}>
      <div style={abs({ left: 16, top: 6, width: 2016, height: 1322, border: "1.5px solid #f0f3fa", boxSizing: "border-box" })} />
      <canvas ref={mainRef} width={2048} height={980} style={abs({ left: 0, top: 0, width: 2048, height: 980 })} />
      <canvas ref={obvRef} width={2048} height={357} style={abs({ left: 0, top: 973, width: 2048, height: 357 })} />
      <div style={abs({ left: 16, top: 972, width: 2016, height: 2, background: "#e0e3eb" })} />
      <div style={abs({ left: 29, top: 20, fontSize: 19, lineHeight: "24px", color: "#131722", whiteSpace: "nowrap" })}>{headerTitle}</div>
      {headerValues.map((t, i) => (
        <div key={t} style={abs({ left: headerValueLeft[i], top: 20, fontSize: 19, lineHeight: "24px", color: "#2a2e39", whiteSpace: "nowrap" })}>{t}</div>
      ))}
      <svg style={abs({ left: 1731, top: 936 })} width={34} height={34} viewBox="0 0 34 34">
        <circle cx="17" cy="17" r="15.5" fill="#fff" stroke="#9c27b0" strokeWidth="2.2" />
        <path d="M21 7 L10 19 H15.5 L13 27 L24 15 H18.5 Z" fill="#9c27b0" />
      </svg>
      <svg style={abs({ left: 16, top: 1347 })} width={32} height={16} viewBox="0 4 36 18">
        <path d="M14 22H7V11H0V4h14v18zM28 22h-8l7.5-18h8L28 22z" fill="#131722" />
        <circle cx="20" cy="8" r="4" fill="#131722" />
      </svg>
      <div style={abs({ left: 54, top: 1343, fontSize: 20, lineHeight: "28px", color: "#131722", whiteSpace: "nowrap" })}>TradingView</div>
    </div>
  );
}
